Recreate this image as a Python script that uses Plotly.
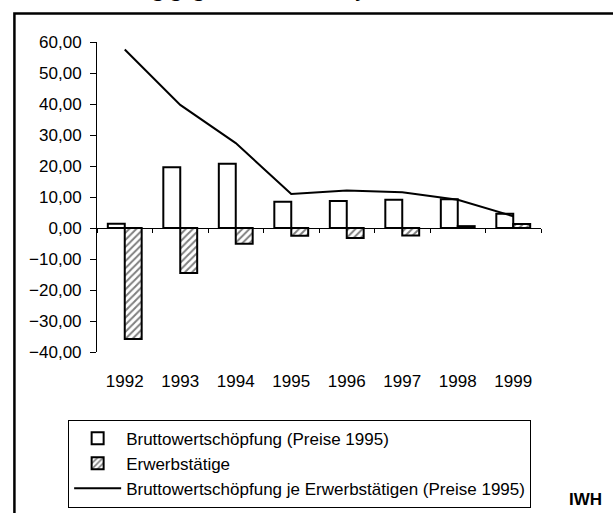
import plotly.graph_objects as go

# data
years = ["1992", "1993", "1994", "1995", "1996", "1997", "1998", "1999"]
bws = [1.4, 19.6, 20.7, 8.5, 8.7, 9.1, 9.3, 4.6]
erwerbstaetige = [-35.8, -14.5, -5.1, -2.5, -3.2, -2.4, 0.6, 1.3]
bws_je_erwerbst = [57.6, 39.7, 27.4, 11.0, 12.1, 11.5, 9.1, 3.8]

y_range = [-40, 60]
y_ticks = [-40, -30, -20, -10, 0, 10, 20, 30, 40, 50, 60]

FONT = "Liberation Sans, Arial, sans-serif"
FS = 17

# where the zero line sits inside the plot area (paper fraction)
zero_pos = (0 - y_range[0]) / (y_range[1] - y_range[0])

fig = go.Figure()

fig.add_trace(go.Bar(
    x=years,
    y=bws,
    name="Bruttowertschöpfung (Preise 1995)",
    legendgroup="a",
    marker=dict(color="white", line=dict(color="black", width=2)),
))

fig.add_trace(go.Bar(
    x=years,
    y=erwerbstaetige,
    name="Erwerbstätige",
    legendgroup="b",
    marker=dict(
        color="white",
        line=dict(color="black", width=2),
        pattern=dict(shape="/", fgcolor="black", bgcolor="white", size=5, solidity=0.4),
    ),
))

fig.add_trace(go.Scatter(
    x=years,
    y=bws_je_erwerbst,
    name="Bruttowertschöpfung je Erwerbstätigen (Preise 1995)",
    legendgroup="c",
    mode="lines",
    line=dict(color="black", width=2),
))

# invisible helper so the label axis at the bottom gets drawn
fig.add_trace(go.Scatter(
    x=list(range(len(years))),
    y=[0] * len(years),
    xaxis="x2",
    mode="markers",
    marker=dict(opacity=0),
    showlegend=False,
    hoverinfo="skip",
))

fig.update_layout(
    width=613,
    height=513,
    paper_bgcolor="white",
    plot_bgcolor="white",
    margin=dict(l=97, r=72, t=42, b=161, autoexpand=False),
    font=dict(family=FONT, size=FS, color="black"),
    separators=",.",
    barmode="group",
    bargap=0.39,
    bargroupgap=0,
    showlegend=True,
    legend=dict(
        x=-0.065, y=-0.218, xanchor="left", yanchor="top",
        bordercolor="black", borderwidth=1,
        font=dict(family=FONT, size=FS, color="black"),
        traceorder="normal",
        itemwidth=47,
        tracegroupgap=9,
    ),
    xaxis=dict(
        type="category",
        range=[-0.5, 7.5],
        anchor="free",
        position=zero_pos,
        showline=True, linecolor="black", linewidth=1,
        ticks="outside", tickson="boundaries", ticklen=4, tickcolor="black",
        showticklabels=False,
        showgrid=False, zeroline=False,
    ),
    xaxis2=dict(
        overlaying="x",
        anchor="y",
        side="bottom",
        range=[-0.5, 7.5],
        tickvals=list(range(len(years))),
        ticktext=years,
        showline=False, ticks="", showgrid=False, zeroline=False,
        ticklabelstandoff=17,
        tickfont=dict(family=FONT, size=FS, color="black"),
    ),
    yaxis=dict(
        range=y_range,
        tickvals=y_ticks,
        tickformat=".2f",
        showline=True, linecolor="black", linewidth=1,
        ticks="outside", ticklen=6, tickcolor="black",
        ticklabelstandoff=5,
        showgrid=False, zeroline=False,
        tickfont=dict(family=FONT, size=FS, color="black"),
    ),
)

# outer frame of the original graphic (runs past the right and bottom edges)
fig.add_shape(
    type="rect", xref="paper", yref="paper",
    x0=-0.186, x1=1.6, y0=-1.0, y1=1.092,
    line=dict(color="black", width=2.5), fillcolor="rgba(0,0,0,0)", layer="below",
)

# title line, mostly cut off at the top edge
fig.add_annotation(
    text="<i>Veränderung gegenüber dem Vorjahr in %</i>",
    xref="paper", yref="paper", x=-0.128, y=1.125,
    xanchor="left", yanchor="bottom", showarrow=False,
    font=dict(family="Liberation Serif, Times New Roman, serif", size=24, color="black"),
)

fig.add_annotation(
    text="<b>IWH</b>",
    xref="paper", yref="paper", x=1.059, y=-0.477,
    xanchor="left", yanchor="middle", showarrow=False,
    font=dict(family=FONT, size=FS, color="black"),
)

fig.write_html(
    "out.html",
    config={"displayModeBar": False},
    post_script="document.body.style.margin='0';",
)
